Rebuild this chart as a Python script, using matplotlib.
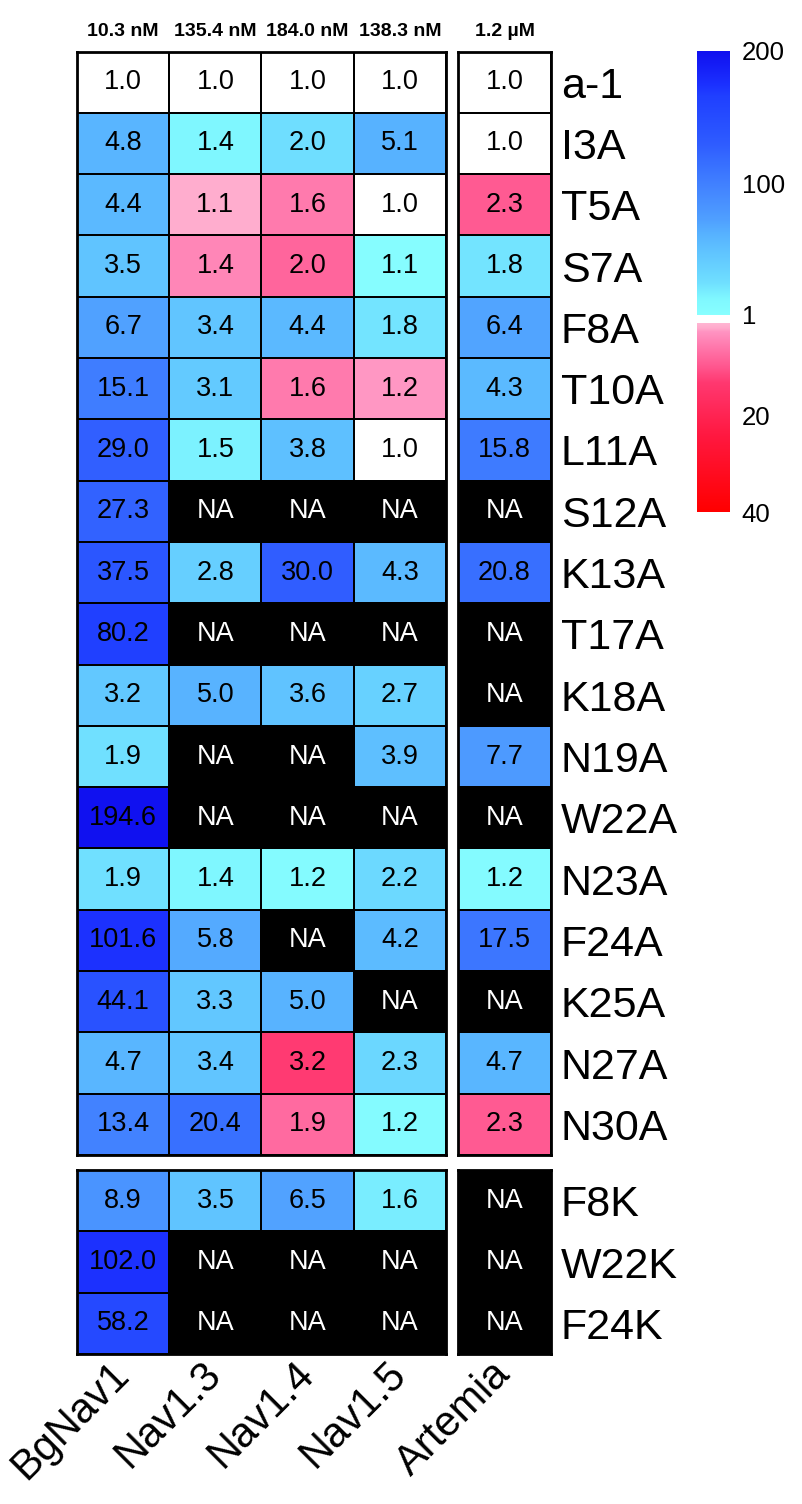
import numpy as np
import matplotlib
matplotlib.use("Agg")
import matplotlib.pyplot as plt
from matplotlib.colors import LinearSegmentedColormap

plt.rcParams['font.family'] = ['Liberation Sans', 'DejaVu Sans']

# fold change per mutant, negative = more potent (red), nan = not active
mutants = ['a-1', 'I3A', 'T5A', 'S7A', 'F8A', 'T10A', 'L11A', 'S12A', 'K13A',
           'T17A', 'K18A', 'N19A', 'W22A', 'N23A', 'F24A', 'K25A', 'N27A', 'N30A']
mutants_k = ['F8K', 'W22K', 'F24K']
channels = ['BgNav1', 'Nav1.3', 'Nav1.4', 'Nav1.5']
ic50 = ['10.3 nM', '135.4 nM', '184.0 nM', '138.3 nM']
artemia_ic50 = '1.2 µM'
nan = np.nan

bgnav1 = [1.0, 4.8, 4.4, 3.5, 6.7, 15.1, 29.0, 27.3, 37.5, 80.2, 3.2, 1.9, 194.6,
          1.9, 101.6, 44.1, 4.7, 13.4, 8.9, 102.0, 58.2]
nav13 = [1.0, 1.4, -1.1, -1.4, 3.4, 3.1, 1.5, nan, 2.8, nan, 5.0, nan, nan,
         1.4, 5.8, 3.3, 3.4, 20.4, 3.5, nan, nan]
nav14 = [1.0, 2.0, -1.6, -2.0, 4.4, -1.6, 3.8, nan, 30.0, nan, 3.6, nan, nan,
         1.2, nan, 5.0, -3.2, -1.9, 6.5, nan, nan]
nav15 = [1.0, 5.1, 1.0, 1.1, 1.8, -1.2, 1.0, nan, 4.3, nan, 2.7, 3.9, nan,
         2.2, 4.2, nan, 2.3, 1.2, 1.6, nan, nan]
artemia = [1.0, 1.0, -2.3, 1.8, 6.4, 4.3, 15.8, nan, 20.8, nan, nan, 7.7, nan,
           1.2, 17.5, nan, 4.7, -2.3, nan, nan, nan]

blue_cmap = LinearSegmentedColormap.from_list('blues', [
    (0.0, '#88ffff'), (0.06, '#80f8ff'), (0.12, '#70e0ff'), (0.22, '#62c8ff'),
    (0.30, '#58b4ff'), (0.36, '#50a0ff'), (0.49, '#4282ff'), (0.57, '#3870ff'),
    (0.64, '#305eff'), (0.70, '#2a54ff'), (0.83, '#2040ff'), (0.87, '#1c32ff'),
    (1.0, '#1010f0')])
red_cmap = LinearSegmentedColormap.from_list('reds', [
    (0.0, '#ffb8d4'), (0.03, '#ffaacc'), (0.05, '#ff94c2'), (0.13, '#ff78ac'),
    (0.23, '#ff5890'), (0.32, '#ff3870'), (0.6, '#ff1840'), (1.0, '#ff0000')])


def cell_color(v):
    if np.isnan(v):
        return (0.0, 0.0, 0.0, 1.0)
    if abs(v) == 1.0:
        return (1.0, 1.0, 1.0, 1.0)
    if v > 0:
        return blue_cmap(np.log(v) / np.log(200))
    return red_cmap(np.log(-v) / np.log(40))


W, H = 803, 1504
fig = plt.figure(figsize=(W / 100, H / 100), dpi=100)


def px_axes(x0, y0, x1, y1):
    return fig.add_axes([x0 / W, 1 - y1 / H, (x1 - x0) / W, (y1 - y0) / H])


def draw_block(ax, data, ylabels=None, xlabels=None, top=None):
    data = np.array(data, dtype=float)
    nrow, ncol = data.shape
    colors = np.array([[cell_color(v) for v in row] for row in data], dtype=float)
    ax.pcolormesh(np.arange(ncol + 1), np.arange(nrow + 1), colors,
                  edgecolors='black', linewidth=1.3)
    ax.set_xlim(0, ncol)
    ax.set_ylim(nrow, 0)
    for i in range(nrow):
        for j in range(ncol):
            v = data[i, j]
            if np.isnan(v):
                ax.text(j + 0.5, i + 0.5, 'NA', ha='center', va='center',
                        fontsize=19.5, color='white')
            else:
                ax.text(j + 0.5, i + 0.5, f'{abs(v):.1f}', ha='center',
                        va='center', fontsize=19.5, color='black')
    for s in ax.spines.values():
        s.set_linewidth(2.0)
    ax.tick_params(length=0)
    if ylabels is not None:
        ax.yaxis.tick_right()
        ax.set_yticks(np.arange(nrow) + 0.5)
        ax.set_yticklabels(ylabels, fontsize=31)
        ax.tick_params(axis='y', pad=7)
    else:
        ax.set_yticks([])
    if xlabels is not None:
        ax.set_xticks(np.arange(ncol) + 0.5)
        ax.set_xticklabels(xlabels, fontsize=30, rotation=45, ha='right',
                           va='center', rotation_mode='anchor')
        ax.tick_params(axis='x', pad=10)
    else:
        ax.set_xticks([])
    if top is not None:
        for j, t in enumerate(top):
            ax.text(j + 0.5, -0.18, t, ha='center', va='bottom',
                    fontsize=14, fontweight='bold')


main = np.array([bgnav1, nav13, nav14, nav15]).T
art = np.array([artemia]).T
n = len(mutants)

y_top, y_mid, y_k0, y_k1 = 51.5, 1155, 1170, 1354
draw_block(px_axes(77, y_top, 446, y_mid), main[:n], top=ic50)
draw_block(px_axes(77, y_k0, 446, y_k1), main[n:], xlabels=channels)
draw_block(px_axes(458, y_top, 551, y_mid), art[:n], ylabels=mutants,
           top=[artemia_ic50])
draw_block(px_axes(458, y_k0, 551, y_k1), art[n:], ylabels=mutants_k,
           xlabels=['Artemia'])

# colour bar, two halves
grad = np.linspace(0, 1, 256)[:, None]
cb_blue = px_axes(697, 51, 729, 315)
cb_blue.imshow(grad, cmap=blue_cmap, aspect='auto', origin='lower',
               extent=[0, 1, 1, 200])
cb_blue.set_xticks([])
cb_blue.yaxis.tick_right()
cb_blue.set_yticks([200, 100, 1])
cb_blue.set_yticklabels(['200', '100', '1'], fontsize=18.5)
cb_blue.tick_params(length=0, pad=9)

cb_red = px_axes(697, 323, 729, 512)
cb_red.imshow(grad, cmap=red_cmap, aspect='auto', origin='upper',
              extent=[0, 1, 40, 1])
cb_red.set_ylim(40, 1)
cb_red.set_xticks([])
cb_red.yaxis.tick_right()
cb_red.set_yticks([20, 40])
cb_red.set_yticklabels(['20', '40'], fontsize=18.5)
cb_red.tick_params(length=0, pad=9)
for a in (cb_blue, cb_red):
    for s in a.spines.values():
        s.set_visible(False)

fig.savefig('out.png', dpi=100)
